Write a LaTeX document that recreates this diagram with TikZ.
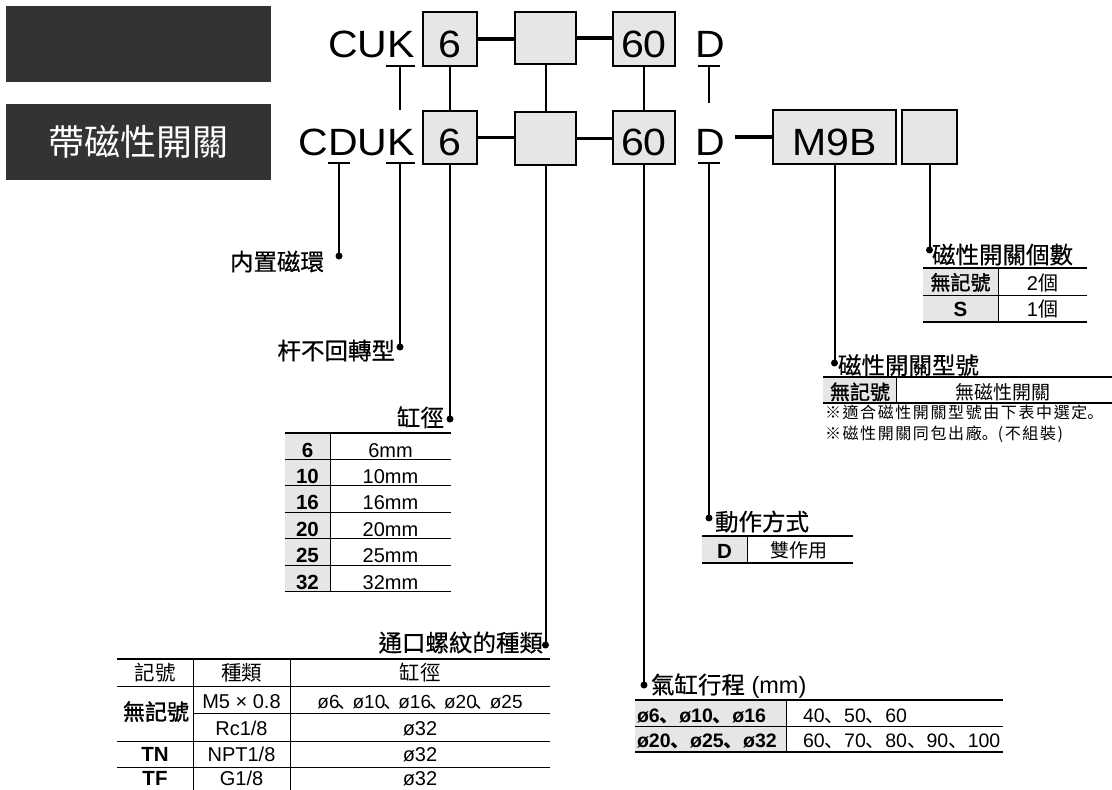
\documentclass[tikz,border=0pt]{standalone}
\usepackage{fontspec}
\setmainfont{Liberation Sans}
\newfontfamily\bigfnt[FakeStretch=1.08]{Liberation Sans}
\newfontfamily\cjk{Noto Sans CJK TC}
\newfontfamily\cjkl[FakeBold=0.5]{Noto Sans CJK TC}
\newfontfamily\cjkb[FakeBold=1.6]{Noto Sans CJK TC}
\newfontfamily\cjkp{Noto Sans CJK SC}
\newfontfamily\cjknote[LetterSpace=10]{Noto Sans CJK TC}
\newfontfamily\cjknotep[LetterSpace=10]{Noto Sans CJK SC}
\newcommand\fsz[1]{\fontsize{#1}{#1}\selectfont}
\newcommand\dn{{\cjkp 、}}
\newcommand\dsm{\kern-2pt{\cjkp 、}\kern-4pt}
\definecolor{darkbox}{HTML}{333333}
\definecolor{cellgrey}{HTML}{E6E6E6}
\begin{document}
\begin{tikzpicture}[x=1pt,y=-1pt,
  every node/.style={inner sep=0pt, outer sep=0pt},
  codebox/.style={draw=black, line width=2pt, fill=cellgrey, text height=36pt, text depth=0pt, font=\bigfnt\fsz{38}},
  bigtxt/.style={font=\bigfnt\fsz{38}, anchor=base},
  link/.style={line width=3.5pt},
  lead/.style={line width=2pt},
  dot/.style={circle, fill=black, minimum size=7pt},
  lbl/.style={font=\cjkl\fsz{23.5}},
  toprule/.style={line width=2.5pt},
  midrule/.style={line width=1pt},
  botrule/.style={line width=1.5pt},
  lat/.style={anchor=base, font=\fsz{20}},
  latb/.style={anchor=base, font=\bfseries\fsz{20.5}},
  cj/.style={anchor=base, font=\cjk\fsz{19}},
  cjb/.style={anchor=base, font=\cjkb\fsz{20}}
]
\path[use as bounding box, clip] (0,0) rectangle (1112,790);
\fill[white] (0,0) rectangle (1112,790);

% dark header boxes
\node[fill=darkbox, minimum width=265pt, minimum height=76pt] (blank) at (138.5,44) {};
\node[fill=darkbox, minimum width=265pt, minimum height=76pt, text=white, font=\cjk\fsz{36}] (withsw) at (138.5,142) {帶磁性開關};

% big codes
\node[bigtxt, anchor=base east] (cuk) at (415,57) {CUK};
\node[bigtxt, anchor=base east] (cduk) at (415,155) {CDUK};
\node[bigtxt] (da) at (710,57) {D};
\node[bigtxt] (db) at (710,155) {D};

\node[codebox, minimum width=54pt, minimum height=54pt] (s1) at (450,39) {6};
\node[codebox, minimum width=61pt, minimum height=52pt] (p1) at (545.5,38) {};
\node[codebox, minimum width=62pt, minimum height=54pt] (st1) at (644,39) {60};
\node[codebox, minimum width=54pt, minimum height=53pt] (s2) at (450,137.5) {6};
\node[codebox, minimum width=61pt, minimum height=53pt] (p2) at (545.5,138.5) {};
\node[codebox, minimum width=62pt, minimum height=53pt] (st2) at (644,137.5) {60};
\node[codebox, minimum width=123pt, minimum height=54pt] (sw) at (834.5,137) {M9B};
\node[codebox, minimum width=55pt, minimum height=54pt] (nsw) at (929.5,137) {};

% thick links
\draw[link] (s1.east) -- (s1.east -| p1.west);
\draw[link] (p1.east) -- (p1.east -| st1.west);
\draw[link] (s2.east) -- (s2.east -| p2.west);
\draw[link] (p2.east) -- (p2.east -| st2.west);
\coordinate (dl) at (735,137);
\draw[link] (dl) -- (sw.west);

% row1 -> row2
\draw[lead] (s1.south) -- (s2.north);
\draw[lead] (p1.south) -- (p2.north);
\draw[lead] (st1.south) -- (st2.north);

% bars row 1
\coordinate (k1l) at (386,66); \coordinate (k1r) at (415,66);
\coordinate (k1) at (400,66); \coordinate (k1e) at (400,110);
\draw[lead] (k1l) -- (k1r); \draw[lead] (k1) -- (k1e);
\coordinate (e1l) at (698,66); \coordinate (e1r) at (720,66);
\coordinate (e1) at (709,66); \coordinate (e1e) at (709,103);
\draw[lead] (e1l) -- (e1r); \draw[lead] (e1) -- (e1e);

% dots
\node[dot] (m1) at (339,256) {};
\node[dot] (m2) at (400,347) {};
\node[dot] (m3) at (450,419) {};
\node[dot] (m4) at (545.5,645) {};
\node[dot] (m5) at (644,685) {};
\node[dot] (m6) at (709,518) {};
\node[dot] (m7) at (834.5,363) {};
\node[dot] (m8) at (929.5,250) {};

% bars row 2
\coordinate (c2l) at (328,163); \coordinate (c2r) at (350,163); \coordinate (c2) at (339,163);
\draw[lead] (c2l) -- (c2r); \draw[lead] (c2) -- (m1.center);
\coordinate (k2l) at (386,163); \coordinate (k2r) at (415,163); \coordinate (k2) at (400,163);
\draw[lead] (k2l) -- (k2r); \draw[lead] (k2) -- (m2.center);
\coordinate (e2l) at (698,163); \coordinate (e2r) at (720,163); \coordinate (e2) at (709,163);
\draw[lead] (e2l) -- (e2r); \draw[lead] (e2) -- (m6.center);

% leads from boxes
\draw[lead] (s2.south) -- (m3.center);
\draw[lead] (p2.south) -- (m4.center);
\draw[lead] (st2.south) -- (m5.center);
\draw[lead] (sw.south) -- (m7.center);
\draw[lead] (nsw.south) -- (m8.center);

% labels
\node[lbl, anchor=base east] (l1) at (324,270.5) {内置磁環};
\node[lbl, anchor=base east] (l2) at (395,359.5) {杆不回轉型};
\node[lbl, anchor=base east] (l3) at (444,426.5) {缸徑};
\node[lbl, anchor=base east] (l4) at (543,651.5) {通口螺紋的種類};
\node[anchor=base west, font=\fsz{23.5}] (l5) at (651,693.5) {{\cjkl 氣缸行程} (mm)};
\node[lbl, anchor=base west] (l6) at (715,530.5) {動作方式};
\node[lbl, anchor=base west] (l7) at (838,374) {磁性開關型號};
\node[lbl, anchor=base west] (l8) at (932,263.5) {磁性開關個數};

% ---- table: bore
\fill[cellgrey] (285,433) rectangle (330,591.4);
\foreach \yy in {459.4,485.8,512.2,538.6,565} \draw[midrule] (285,\yy) -- (451,\yy);
\draw[toprule] (285,433) -- (451,433);
\draw[botrule] (285,591.4) -- (451,591.4);
\draw[midrule] (330,433) -- (330,591.4);
\foreach \n [count=\i from 0] in {6,10,16,20,25,32} {
  \node[latb] (ba\i) at (307.5,457+26.4*\i) {\n};
  \node[lat] (bb\i) at (390.5,457+26.4*\i) {\n mm};
}

% ---- table: port thread
\draw[toprule] (117,659) -- (550,659);
\draw[midrule] (117,686) -- (550,686);
\draw[midrule] (193,713.5) -- (550,713.5);
\draw[midrule] (117,741) -- (550,741);
\draw[midrule] (117,767.5) -- (550,767.5);
\draw[botrule] (117,794) -- (550,794);
\draw[midrule] (193,659) -- (193,794);
\draw[midrule] (290,659) -- (290,794);
\node[anchor=base, font=\cjk\fsz{20.5}] (th1) at (155,680) {記號};
\node[anchor=base, font=\cjk\fsz{20.5}] (th2) at (241.5,680) {種類};
\node[anchor=base, font=\cjk\fsz{20.5}] (th3) at (420,680) {缸徑};
\node[anchor=base, font=\cjkb\fsz{22}] (tr1) at (156,720) {無記號};
\node[lat] (tr1b) at (241.5,708.5) {M5 × 0.8};
\node[lat, font=\fsz{19}] (tr1c) at (420,708.5) {ø6\dsm ø10\dsm ø16\dsm ø20\dsm ø25};
\node[lat] (tr2b) at (241.5,735) {Rc1/8};
\node[lat] (tr2c) at (420,735) {ø32};
\node[latb] (tr3a) at (155,761.5) {TN};
\node[lat] (tr3b) at (241.5,761.5) {NPT1/8};
\node[lat] (tr3c) at (420,761.5) {ø32};
\node[latb] (tr4a) at (155,785.5) {TF};
\node[lat] (tr4b) at (241.5,785.5) {G1/8};
\node[lat] (tr4c) at (420,785.5) {ø32};

% ---- table: stroke
\fill[cellgrey] (635,700) rectangle (786,752);
\draw[toprule] (635,700) -- (1003,700);
\draw[midrule] (635,726) -- (1003,726);
\draw[botrule] (635,752) -- (1003,752);
\draw[midrule] (786,700) -- (786,752);
\node[anchor=base west, font=\bfseries\fsz{19.5}] (sr1a) at (637,722.5) {ø6\dn ø10\dn ø16};
\node[anchor=base west, font=\fsz{19.5}] (sr1b) at (803,722.5) {40\dn 50\dn 60};
\node[anchor=base west, font=\bfseries\fsz{19.5}] (sr2a) at (637,747) {ø20\dn ø25\dn ø32};
\node[anchor=base west, font=\fsz{19.5}] (sr2b) at (803,747) {60\dn 70\dn 80\dn 90\dn 100};

% ---- table: action
\fill[cellgrey] (702,536) rectangle (747,563);
\draw[toprule] (702,536) -- (853,536);
\draw[botrule] (702,563) -- (853,563);
\draw[midrule] (747,536) -- (747,563);
\node[latb] (ac1) at (724.5,558) {D};
\node[cj] (ac2) at (799,557.5) {雙作用};

% ---- table: number of switches
\fill[cellgrey] (923,268) rectangle (998,322);
\draw[toprule] (923,268) -- (1087,268);
\draw[midrule] (923,295) -- (1087,295);
\draw[botrule] (923,322) -- (1087,322);
\draw[midrule] (998,268) -- (998,322);
\node[cjb] (nq1a) at (960.5,290) {無記號};
\node[lat] (nq1b) at (1042.5,290) {2{\cjk 個}};
\node[latb] (nq2a) at (960.5,316) {S};
\node[lat] (nq2b) at (1042.5,316) {1{\cjk 個}};

% ---- table: switch model
\fill[cellgrey] (823,377) rectangle (896,403);
\draw[toprule] (823,377) -- (1112,377);
\draw[botrule] (823,403) -- (1112,403);
\draw[midrule] (896,377) -- (896,403);
\node[cjb] (sm1) at (860,399.5) {無記號};
\node[cj] (sm2) at (1003,399.5) {無磁性開關};
\node[anchor=base west, font=\cjknote\fsz{16}] (note1) at (825,418) {※適合磁性開關型號由下表中選定{\cjknotep 。}};
\node[anchor=base west, font=\cjknote\fsz{16}] (note2) at (825,439) {※磁性開關同包出廠{\cjknotep 。}{\fsz{16}(}不組裝{\fsz{16})}};
\end{tikzpicture}
\end{document}
